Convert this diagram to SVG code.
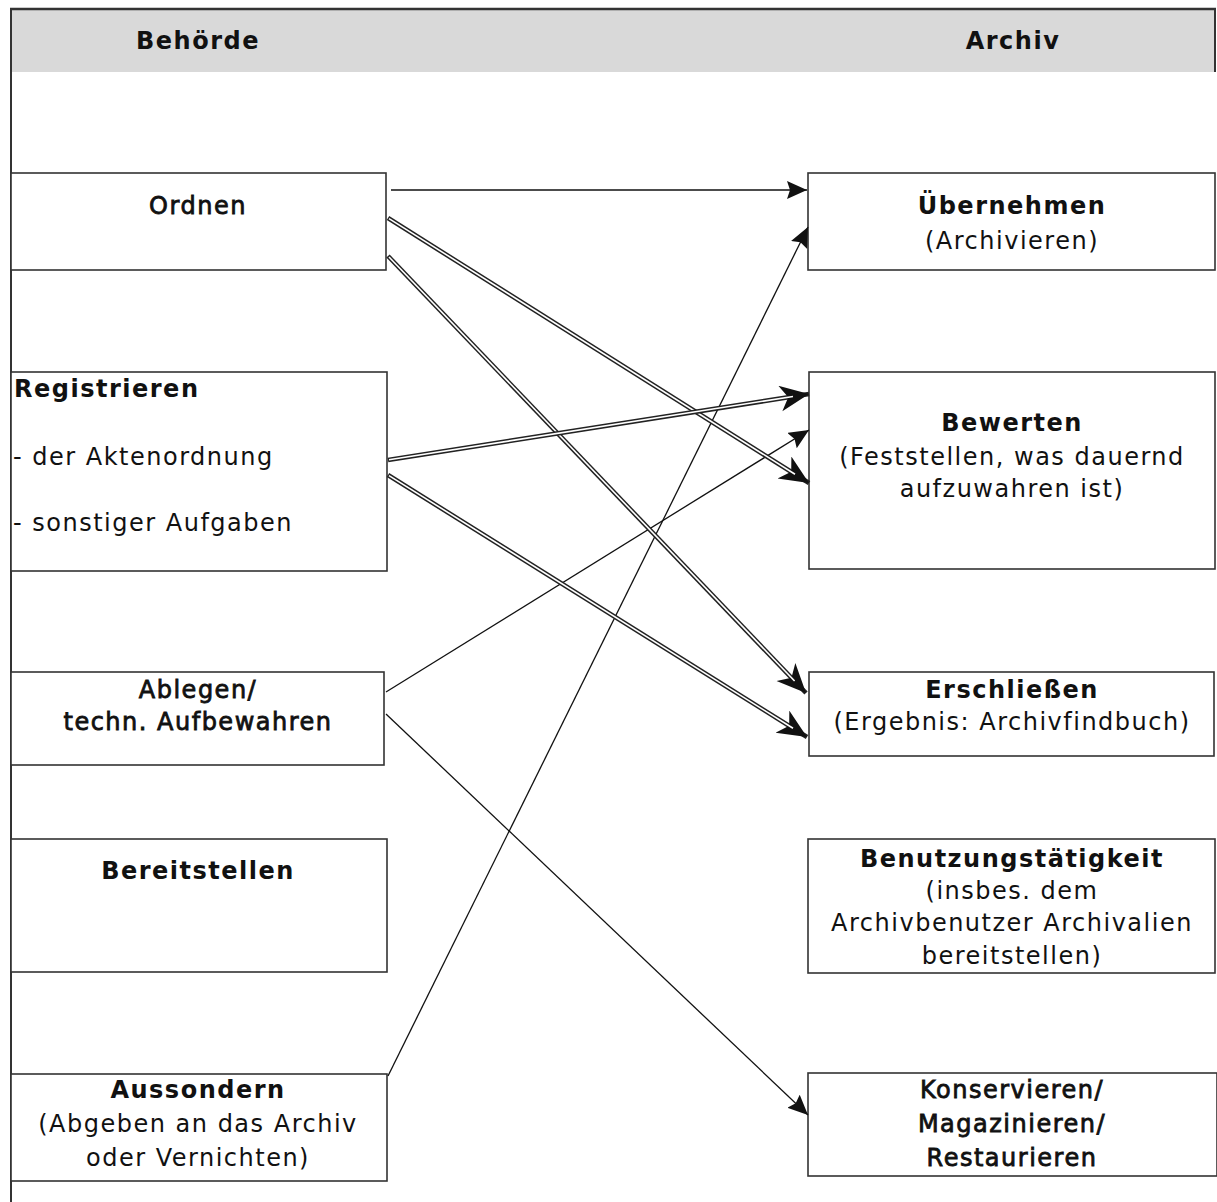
<svg xmlns="http://www.w3.org/2000/svg" width="1217" height="1202" viewBox="0 0 1217 1202">
<style>
text{font-family:"DejaVu Sans",Verdana,sans-serif;font-size:24px;letter-spacing:1.5px;fill:#111}
.c{text-anchor:middle}
.b{font-weight:bold}
.m{stroke:#111;stroke-width:0.8px}
.box{fill:#fff;stroke:#333;stroke-width:1.6}
.s{stroke:#111;stroke-width:1.3;fill:none}
.dk{stroke:#222;stroke-width:4.6;fill:none}
.dw{stroke:#fff;stroke-width:1.6;fill:none}
</style>
<defs>
<marker id="ah" markerUnits="userSpaceOnUse" markerWidth="22" markerHeight="20" refX="20" refY="9" orient="auto">
<path d="M0,0 L20,9 L0,18 L3,9 z" fill="#111"/>
</marker>
<marker id="ahd" markerUnits="userSpaceOnUse" markerWidth="32" markerHeight="30" refX="29" refY="13" orient="auto">
<path d="M0,0 L29,13 L0,26 L8,13 z" fill="#111"/>
</marker>
</defs>
<rect width="1217" height="1202" fill="#fff"/>
<g id="header">
<rect x="11" y="10" width="1204" height="62" fill="#d9d9d9"/>
<line x1="10" y1="9" x2="1216" y2="9" stroke="#333" stroke-width="2.5"/>
<line x1="11" y1="9" x2="11" y2="1202" stroke="#333" stroke-width="2"/>
<line x1="1215" y1="9" x2="1215" y2="72" stroke="#333" stroke-width="2"/>
<text class="c b" x="198" y="49">Behörde</text>
<text class="c b" x="1013" y="49">Archiv</text>
</g>
<g id="ordnen">
<rect class="box" x="11" y="173" width="375" height="97"/>
<text class="c m" x="198" y="214">Ordnen</text>
</g>
<g id="registrieren">
<rect class="box" x="11" y="372" width="376" height="199"/>
<text class="b" x="14" y="397">Registrieren</text>
<text x="13" y="465">- der Aktenordnung</text>
<text x="13" y="531">- sonstiger Aufgaben</text>
</g>
<g id="ablegen">
<rect class="box" x="11" y="672" width="373" height="93"/>
<text class="c m" x="198" y="698">Ablegen/</text>
<text class="c m" x="198" y="730">techn. Aufbewahren</text>
</g>
<g id="bereitstellen">
<rect class="box" x="11" y="839" width="376" height="133"/>
<text class="c b" x="198" y="879">Bereitstellen</text>
</g>
<g id="aussondern">
<rect class="box" x="11" y="1074" width="376" height="107"/>
<text class="c b" x="198" y="1098">Aussondern</text>
<text class="c" x="198" y="1132">(Abgeben an das Archiv</text>
<text class="c" x="198" y="1166">oder Vernichten)</text>
</g>
<g id="uebernehmen">
<rect class="box" x="808" y="173" width="407" height="97"/>
<text class="c b" x="1012" y="214">Übernehmen</text>
<text class="c" x="1012" y="249">(Archivieren)</text>
</g>
<g id="bewerten">
<rect class="box" x="809" y="372" width="406" height="197"/>
<text class="c b" x="1012" y="431">Bewerten</text>
<text class="c" x="1012" y="465">(Feststellen, was dauernd</text>
<text class="c" x="1012" y="497">aufzuwahren ist)</text>
</g>
<g id="erschliessen">
<rect class="box" x="809" y="672" width="405" height="84"/>
<text class="c b" x="1012" y="698">Erschließen</text>
<text class="c" x="1012" y="730">(Ergebnis: Archivfindbuch)</text>
</g>
<g id="benutzung">
<rect class="box" x="808" y="839" width="407" height="134"/>
<text class="c b" x="1012" y="867">Benutzungstätigkeit</text>
<text class="c" x="1012" y="899">(insbes. dem</text>
<text class="c" x="1012" y="931">Archivbenutzer Archivalien</text>
<text class="c" x="1012" y="964">bereitstellen)</text>
</g>
<g id="konservieren">
<rect class="box" x="808" y="1073" width="409" height="103"/>
<text class="c m" x="1012" y="1098">Konservieren/</text>
<text class="c m" x="1012" y="1132">Magazinieren/</text>
<text class="c m" x="1012" y="1166">Restaurieren</text>
</g>
<g id="connectors">
<line class="s" x1="391" y1="190" x2="807" y2="190" marker-end="url(#ah)"/>
<line class="s" x1="386" y1="692" x2="809" y2="430" marker-end="url(#ah)"/>
<line class="s" x1="386" y1="714" x2="808" y2="1115" marker-end="url(#ah)"/>
<line class="s" x1="388" y1="1076" x2="808" y2="227" marker-end="url(#ah)"/>
<line class="dk" x1="388" y1="218" x2="809" y2="483" marker-end="url(#ahd)"/>
<line class="dw" x1="389" y1="218.6" x2="795" y2="474.2"/>
<line class="dk" x1="388" y1="256" x2="806" y2="693" marker-end="url(#ahd)"/>
<line class="dw" x1="389" y1="257" x2="794.6" y2="681"/>
<line class="dk" x1="388" y1="460" x2="809" y2="394" marker-end="url(#ahd)"/>
<line class="dw" x1="389" y1="459.8" x2="793" y2="396.5"/>
<line class="dk" x1="388" y1="475" x2="807" y2="737" marker-end="url(#ahd)"/>
<line class="dw" x1="389" y1="475.6" x2="793" y2="728.3"/>
</g>
</svg>
